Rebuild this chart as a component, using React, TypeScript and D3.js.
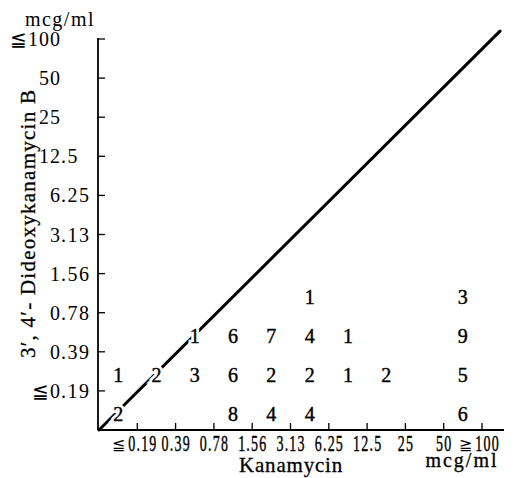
import * as d3 from 'd3';

// tick labels, read bottom-left to top-right
const xLabels = ['≦ 0.19', '0.39', '0.78', '1.56', '3.13', '6.25', '12.5', '25', '50', '≧100'];
const yLabels = ['≦0.19', '0.39', '0.78', '1.56', '3.13', '6.25', '12.5', '25', '50', '≦100'];

// number of strains per cell (columns follow the Kanamycin ticks), null = empty
const rowLe019 = [2, null, null, 8, 4, 4, null, null, null, 6];
const row039 = [1, 2, 3, 6, 2, 2, 1, 2, null, 5];
const row078 = [null, null, 1, 6, 7, 4, 1, null, null, 9];
const row156 = [null, null, null, null, null, 1, null, null, null, 3];
const rows = [rowLe019, row039, row078, row156];

// equal-MIC reference line, in tick units
const diagonal: [number, number][] = [[0, 0], [10.47, 10.2]];

const W = 514;
const H = 478;
const serif = '"Liberation Serif", "DejaVu Serif", serif';

const splitPrefix = (s: string) => {
  const m = s.match(/^([≦≧])\s?(.*)$/);
  return m ? { pre: m[1], num: m[2] } : { pre: '', num: s };
};

// approx width of an x tick label at the given size and spacing
const numWidth = (s: string, fs: number, ls: number) =>
  s.split('').reduce((a, ch) => a + (ch === '.' ? fs * 0.25 : fs * 0.5) + ls, -ls);

const App = () => {
  const x = d3.scaleLinear().domain([0, 10]).range([99, 482]);
  const y = d3.scaleLinear().domain([0, 10]).range([430, 39]);
  const line = d3.line<[number, number]>().x((d) => x(d[0])).y((d) => y(d[1]));

  const cells = rows.flatMap((row, r) =>
    row.map((v, c) => ({ r, c, v })).filter((d) => d.v !== null)
  );

  const yAlign = 61;
  const xFs = 14;
  const xLs = 1.2;

  return (
    <svg width={W} height={H} style={{ position: 'absolute', left: 0, top: 0, background: '#fff' }}>
      <g fill="#000" fontFamily={serif}>
        {/* axes */}
        <line x1={98} x2={504} y1={y(0)} y2={y(0)} stroke="#000" strokeWidth={1.8} />
        <line x1={98} x2={98} y1={y(0)} y2={y(10) - 1} stroke="#000" strokeWidth={1.8} />

        {/* x ticks: tall, narrow figures */}
        {xLabels.map((lab, i) => {
          const { pre, num } = splitPrefix(lab);
          const tx = x(i + 1) + (pre ? 5 : 0);
          const w = numWidth(num, xFs, xLs);
          return (
            <g key={'xt' + i}>
              <line x1={x(i + 1)} x2={x(i + 1)} y1={y(0)} y2={y(0) - 7} stroke="#000" strokeWidth={1.3} />
              <g transform={`translate(${tx - w / 2},451) scale(1,1.6)`}>
                <text fontSize={xFs} letterSpacing={xLs} stroke="#000" strokeWidth={0.25}>
                  {num}
                </text>
              </g>
              {pre && (
                <text x={tx - w / 2 - 3} y={450} textAnchor="end" fontSize={16}>
                  {pre}
                </text>
              )}
            </g>
          );
        })}

        {/* y ticks, aligned on the decimal point */}
        {yLabels.map((lab, i) => {
          const ty = y(i + 1);
          const [intPart, dec] = lab.split('.');
          return (
            <g key={'yt' + i}>
              <line x1={98} x2={105} y1={ty} y2={ty} stroke="#000" strokeWidth={1.3} />
              <text x={yAlign} y={ty + 7} textAnchor="end" fontSize={20} letterSpacing={1}>
                {intPart}
              </text>
              {dec !== undefined && (
                <text x={yAlign} y={ty + 7} fontSize={20} letterSpacing={1.5}>{'.' + dec}</text>
              )}
            </g>
          );
        })}

        {/* diagonal */}
        <path d={line(diagonal) ?? ''} fill="none" stroke="#000" strokeWidth={3} strokeLinecap="round" />

        {/* counts: white halo breaks the diagonal */}
        {cells.map((d) => {
          const cx = x(d.c + 0.5);
          const cy = (y(d.r) + y(d.r + 1)) / 2 + 11;
          return (
            <g key={`c${d.r}-${d.c}`}>
              <text x={cx} y={cy} textAnchor="middle" fontSize={20} fill="#fff" stroke="#fff" strokeWidth={6}>
                {d.v}
              </text>
              <text x={cx} y={cy} textAnchor="middle" fontSize={20} stroke="#000" strokeWidth={0.4}>
                {d.v}
              </text>
            </g>
          );
        })}

        {/* titles */}
        <text x={60} y={26} textAnchor="middle" fontSize={20} letterSpacing={1.5}>mcg/ml</text>
        <text
          transform="translate(35,224) rotate(-90)"
          textAnchor="middle"
          fontSize={21}
          textLength={268}
          lengthAdjust="spacing"
          stroke="#000"
          strokeWidth={0.3}
        >
          3′, 4′- Dideoxykanamycin B
        </text>
        <text x={291} y={472} textAnchor="middle" fontSize={21} letterSpacing={0.8} stroke="#000" strokeWidth={0.3}>
          Kanamycin
        </text>
        <text x={462} y={467} textAnchor="middle" fontSize={20} letterSpacing={2} stroke="#000" strokeWidth={0.3}>
          mcg/ml
        </text>
      </g>
    </svg>
  );
};

export default App;
